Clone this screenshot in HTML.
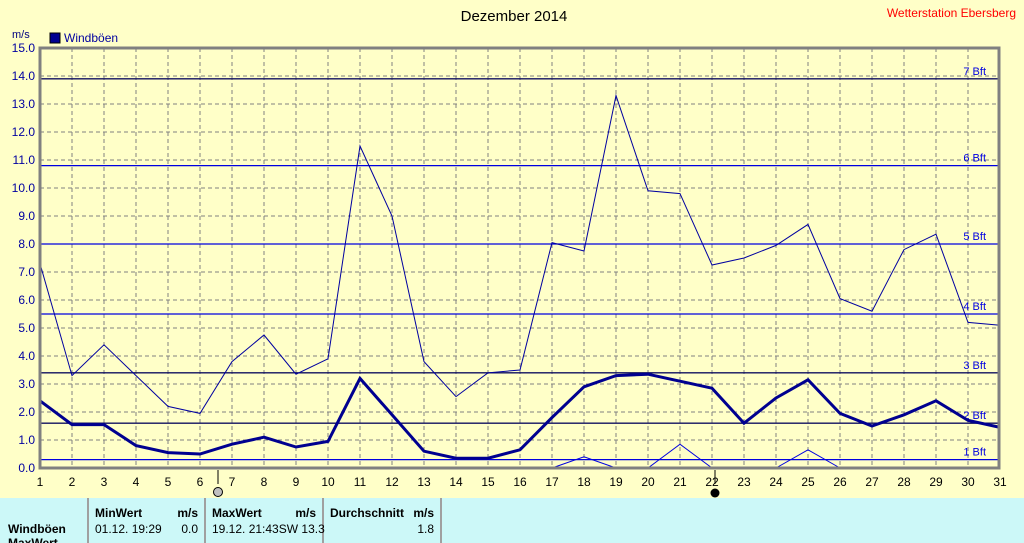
<!DOCTYPE html>
<html><head><meta charset="utf-8"><style>
body{margin:0;width:1024px;height:543px;overflow:hidden;background:#ffffc8;font-family:"Liberation Sans",sans-serif}
svg{display:block}
</style></head><body>
<svg width="1024" height="543" viewBox="0 0 1024 543" font-family="Liberation Sans, sans-serif">
<rect width="1024" height="543" fill="#ffffc8"/>
<text x="514" y="21" font-size="15" text-anchor="middle" fill="#000">Dezember 2014</text>
<text x="1016" y="17" font-size="12" text-anchor="end" fill="#ff0000">Wetterstation Ebersberg</text>
<text x="12" y="38" font-size="11" fill="#000080">m/s</text>
<rect x="50" y="33" width="10" height="10" fill="#000090" stroke="#000" stroke-width="1"/>
<text x="64" y="42" font-size="12" fill="#0000a0">Windböen</text>
<g id="grid" stroke="#808080" stroke-width="1" stroke-dasharray="4,3"></g>
<g id="bft"></g>
<g id="ylab" font-size="12" fill="#0000a0" text-anchor="end"></g>
<g id="xlab" font-size="12" fill="#000" text-anchor="middle"></g>
<g id="data"></g>
<rect x="40" y="48" width="959" height="420" fill="none" stroke="#808080" stroke-width="3"/>
<line x1="218" y1="470" x2="218" y2="484" stroke="#000"/>
<circle cx="218" cy="492" r="4.5" fill="#c0c0c0" stroke="#000"/>
<line x1="715" y1="470" x2="715" y2="484" stroke="#000"/>
<circle cx="715" cy="493" r="4.5" fill="#000"/>
<rect x="0" y="498" width="1024" height="45" fill="#ccf8f8"/>
<g stroke="#a0a0a0" stroke-width="2">
<line x1="88" y1="498" x2="88" y2="543"/><line x1="205" y1="498" x2="205" y2="543"/>
<line x1="323" y1="498" x2="323" y2="543"/><line x1="441" y1="498" x2="441" y2="543"/>
</g>
<g font-size="12" fill="#000">
<text x="95" y="517" font-weight="bold">MinWert</text><text x="198" y="517" font-weight="bold" text-anchor="end">m/s</text>
<text x="95" y="533">01.12.  19:29</text><text x="198" y="533" text-anchor="end">0.0</text>
<text x="212" y="517" font-weight="bold">MaxWert</text><text x="316" y="517" font-weight="bold" text-anchor="end">m/s</text>
<text x="212" y="533">19.12.  21:43SW 13.3</text>
<text x="330" y="517" font-weight="bold">Durchschnitt</text><text x="434" y="517" font-weight="bold" text-anchor="end">m/s</text>
<text x="434" y="533" text-anchor="end">1.8</text>
<text x="8" y="533" font-weight="bold">Windböen</text>
<text x="8" y="547" font-weight="bold">MaxWert</text>
</g>
</svg>
<script>
const ns="http://www.w3.org/2000/svg";
function el(p,t,a,txt){const e=document.createElementNS(ns,t);for(const k in a)e.setAttribute(k,a[k]);if(txt!==undefined)e.textContent=txt;document.getElementById(p).appendChild(e);return e;}
const X=d=>40+(d-1)*32, Y=v=>468-v*28;
for(let d=2;d<=30;d++)el("grid","line",{x1:X(d),y1:48,x2:X(d),y2:468});
for(let v=1;v<15;v++)el("grid","line",{x1:40,y1:Y(v),x2:999,y2:Y(v)});
for(let v=0;v<=15;v++)el("ylab","text",{x:35,y:Y(v)+4},v.toFixed(1));
for(let d=1;d<=31;d++)el("xlab","text",{x:X(d),y:486},d);
[[0.3,1],[1.6,2],[3.4,3],[5.5,4],[8.0,5],[10.8,6],[13.9,7]].forEach(([v,b])=>{
el("bft","line",{x1:40,y1:Y(v),x2:999,y2:Y(v),stroke:(b==7||b==3||b==2)?"#101060":"#0000e0","stroke-width":1.3});
el("bft","text",{x:986,y:Y(v)-4,"font-size":11,fill:"#0000e0","text-anchor":"end"},b+" Bft");});
const mx=[7.3,3.3,4.4,3.3,2.2,1.95,3.8,4.75,3.35,3.9,11.5,9.0,3.8,2.55,3.4,3.5,8.05,7.75,13.3,9.9,9.8,7.25,7.5,7.95,8.7,6.05,5.6,7.8,8.35,5.2,5.1];
const av=[2.4,1.55,1.55,0.8,0.55,0.5,0.85,1.1,0.75,0.95,3.2,1.9,0.6,0.35,0.35,0.65,1.8,2.9,3.3,3.35,3.1,2.85,1.6,2.5,3.15,1.95,1.5,1.9,2.4,1.7,1.45];
const pts=a=>a.map((v,i)=>X(i+1)+","+Y(v)).join(" ");
el("data","polyline",{points:pts(mx),fill:"none",stroke:"#0000a0","stroke-width":1});
el("data","polyline",{points:pts(av),fill:"none",stroke:"#000090","stroke-width":3});
[[17,0.4],[20,0.85],[24,0.65]].forEach(([d,v])=>el("data","polyline",{points:`${X(d)},${Y(0)} ${X(d+1)},${Y(v)} ${X(d+2)},${Y(0)}`,fill:"none",stroke:"#0000e0","stroke-width":1}));
</script>
</body></html>
